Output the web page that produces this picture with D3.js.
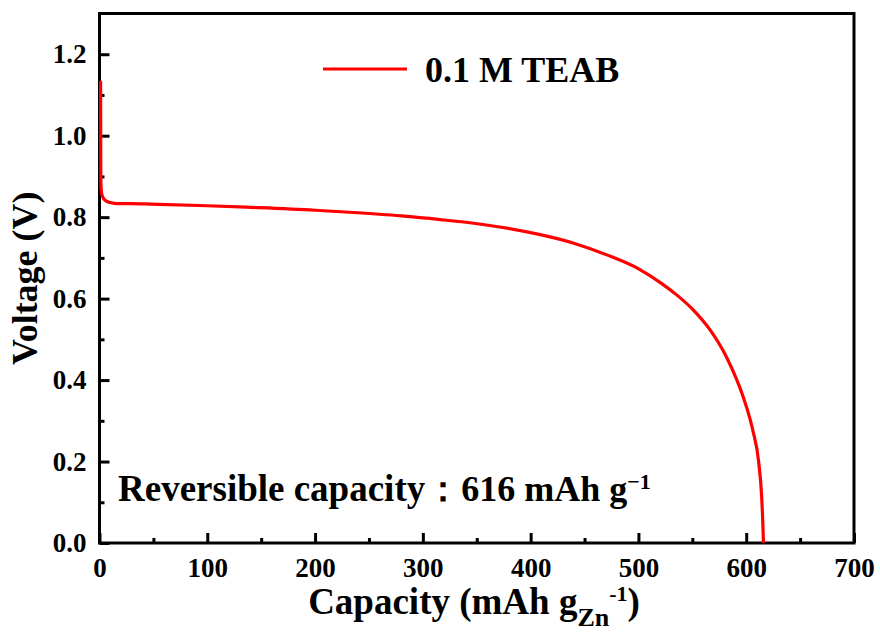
<!DOCTYPE html>
<html>
<head>
<meta charset="utf-8">
<script src="https://cdn.jsdelivr.net/npm/d3@7/dist/d3.min.js"></script>
<style>
  html, body { margin: 0; padding: 0; background: #fff; }
  svg { display: block; }
  text { font-family: "Liberation Serif", "Times New Roman", "DejaVu Serif", serif; font-weight: bold; fill: #000; }
</style>
</head>
<body>
<svg id="chart" width="880" height="637"></svg>
<script>
// Galvanostatic discharge curve, 0.1 M TEAB electrolyte
const capacity = [1.0, 1.1, 1.2, 1.4, 2.0, 3.5, 6, 10, 17, 30, 47, 100, 140, 200, 232, 280, 316, 347, 378, 409, 440, 470, 501, 520, 536, 551, 566, 582, 597, 606, 611.5, 614.3, 615.4, 616];
const voltage  = [1.135, 1.0, 0.92, 0.875, 0.858, 0.847, 0.84, 0.836, 0.833, 0.833, 0.832, 0.828, 0.824, 0.817, 0.812, 0.803, 0.794, 0.785, 0.773, 0.757, 0.736, 0.708, 0.672, 0.640, 0.608, 0.572, 0.525, 0.455, 0.36, 0.278, 0.2, 0.115, 0.05, 0];

const xMajorTicks = [0, 100, 200, 300, 400, 500, 600, 700];
const xMinorTicks = [50, 150, 250, 350, 450, 550, 650];
const yMajorTicks = [0, 0.2, 0.4, 0.6, 0.8, 1.0, 1.2];
const yMinorTicks = [0.1, 0.3, 0.5, 0.7, 0.9, 1.1];

const seriesName = "0.1 M TEAB";
const capacityNote = 616;

const FONT = '"Liberation Serif", "Times New Roman", "DejaVu Serif", serif';
const svg = d3.select("#chart");
const plot = { left: 99.5, right: 854, top: 13.5, bottom: 543 };

const x = d3.scaleLinear().domain([0, 700]).range([plot.left, plot.right]);
const y = d3.scaleLinear().domain([0, 1.3]).range([plot.bottom, plot.top]);

// Inward-pointing ticks, major and minor
const xAxis = svg.append("g").attr("transform", `translate(0,${plot.bottom})`)
  .call(d3.axisBottom(x).tickValues(xMajorTicks).tickSize(-10).tickPadding(15).tickFormat(d3.format("d")));
const xMinor = svg.append("g").attr("transform", `translate(0,${plot.bottom})`)
  .call(d3.axisBottom(x).tickValues(xMinorTicks).tickSize(-5).tickFormat(""));
const yAxis = svg.append("g").attr("transform", `translate(${plot.left},0)`)
  .call(d3.axisLeft(y).tickValues(yMajorTicks).tickSize(-10).tickPadding(13).tickFormat(d3.format(".1f")));
const yMinor = svg.append("g").attr("transform", `translate(${plot.left},0)`)
  .call(d3.axisLeft(y).tickValues(yMinorTicks).tickSize(-5).tickFormat(""));

[xAxis, xMinor, yAxis, yMinor].forEach(g => {
  g.attr("font-family", FONT);
  g.select(".domain").remove();
  g.selectAll(".tick line").attr("stroke", "#000").attr("stroke-width", 3);
  g.selectAll(".tick text").style("font-size", "27px").style("font-family", FONT).attr("fill", "#000");
});

// Frame
svg.append("rect")
  .attr("x", plot.left).attr("y", plot.top)
  .attr("width", plot.right - plot.left).attr("height", plot.bottom - plot.top)
  .attr("fill", "none").attr("stroke", "#000").attr("stroke-width", 3);

// Curve
const data = capacity.map((c, i) => ({ c, v: voltage[i] }));
svg.append("path")
  .datum(data)
  .attr("fill", "none")
  .attr("stroke", "#ff0000")
  .attr("stroke-width", 3.2)
  .attr("stroke-linejoin", "round")
  .attr("d", d3.line().x(d => x(d.c)).y(d => y(d.v)).curve(d3.curveMonotoneX));

// Legend
svg.append("line")
  .attr("x1", 323).attr("x2", 407).attr("y1", 69).attr("y2", 69)
  .attr("stroke", "#ff0000").attr("stroke-width", 3.2);
svg.append("text").attr("x", 425).attr("y", 82).style("font-size", "36px").text(seriesName);

// Capacity annotation
const note = svg.append("text").attr("x", 118).attr("y", 501).style("font-size", "36px");
note.append("tspan").style("font-size", "37px").text("Reversible capacity");
note.append("tspan").text("：");
note.append("tspan").text(capacityNote + " mAh g");
note.append("tspan").attr("dy", "-0.55em").style("font-size", "22px").text("−1");

// Axis titles
const xt = svg.append("text").attr("x", 474).attr("y", 614).attr("text-anchor", "middle").style("font-size", "37px");
xt.append("tspan").text("Capacity (mAh g");
xt.append("tspan").attr("dy", "0.45em").style("font-size", "26px").text("Zn");
xt.append("tspan").attr("dy", "-1.12em").style("font-size", "22px").text("-1");
xt.append("tspan").attr("dy", "0.35em").text(")");

svg.append("text")
  .attr("transform", `translate(37,${(plot.top + plot.bottom) / 2}) rotate(-90)`)
  .attr("text-anchor", "middle").style("font-size", "36px")
  .text("Voltage (V)");
</script>
</body>
</html>
